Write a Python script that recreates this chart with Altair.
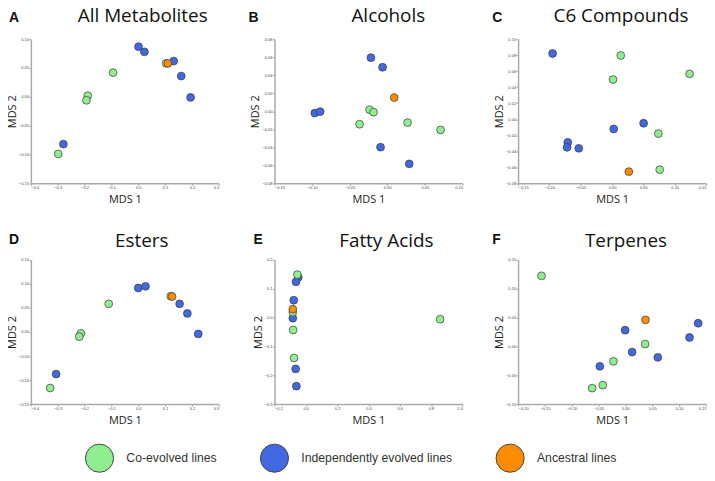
import altair as alt
import pandas as pd

# ---------------- data ----------------
GROUP_NAMES = ["Co-evolved lines", "Independently evolved lines", "Ancestral lines"]
GROUP_COLORS = ["#90EE90", "#4169E1", "#FF8C00"]

# point order per panel: 6 independently evolved, 5 co-evolved, 1 ancestral
groups = ["Independently evolved lines"] * 6 + ["Co-evolved lines"] * 5 + ["Ancestral lines"]

A_x = [0.001, 0.023, 0.132, 0.160, 0.195, -0.279, 0.104, -0.094, -0.188, -0.193, -0.298, 0.110]
A_y = [0.087, 0.078, 0.062, 0.036, -0.001, -0.082, 0.058, 0.042, 0.002, -0.006, -0.099, 0.058]

B_x = [-0.0963, -0.0892, -0.0217, -0.0062, -0.0089, 0.0293, -0.0235, -0.0182, -0.0368, 0.0271, 0.0710, 0.0093]
B_y = [-0.0020, -0.0004, 0.0595, 0.0488, -0.0399, -0.0584, 0.0018, -0.0011, -0.0144, -0.0126, -0.0207, 0.0152]

C_x = [-0.0949, 0.0027, 0.0504, -0.0707, -0.0718, -0.0531, 0.0139, 0.1238, 0.0016, 0.0740, 0.0761, 0.0268]
C_y = [0.0821, -0.0121, -0.0050, -0.0288, -0.0350, -0.0363, 0.0796, 0.0567, 0.0496, -0.0179, -0.0629, -0.0654]

D_x = [0.000, 0.027, 0.154, 0.183, 0.2235, -0.306, 0.121, -0.110, -0.2136, -0.2198, -0.328, 0.126]
D_y = [0.0917, 0.095, 0.0586, 0.0386, -0.004, -0.0876, 0.0745, 0.0586, -0.0028, -0.0097, -0.1166, 0.0738]

E_x = [-0.048, -0.0625, -0.077, -0.083, -0.0646, -0.060, -0.054, -0.083, -0.081, -0.075, 0.858, -0.083]
E_y = [0.140, 0.124, 0.060, -0.0023, -0.178, -0.238, 0.149, 0.0185, -0.043, -0.140, -0.0058, 0.029]

F_x = [0.1354, -0.0006, 0.1193, 0.0124, 0.0602, -0.0478, -0.1565, 0.0366, -0.0224, -0.0422, -0.0621, 0.0373]
F_y = [0.0402, 0.0282, 0.0155, -0.0098, -0.0190, -0.0345, 0.1224, 0.0040, -0.0259, -0.0672, -0.0724, 0.0460]

A_xticks = [-0.4, -0.3, -0.2, -0.1, 0.0, 0.1, 0.2, 0.3]
A_yticks = [-0.15, -0.10, -0.05, 0.00, 0.05, 0.10]
B_xticks = [-0.15, -0.10, -0.05, 0.00, 0.05, 0.10]
B_yticks = [-0.08, -0.06, -0.04, -0.02, 0.00, 0.02, 0.04, 0.06, 0.08]
C_xticks = [-0.15, -0.10, -0.05, 0.00, 0.05, 0.10, 0.15]
C_yticks = [-0.08, -0.06, -0.04, -0.02, 0.00, 0.02, 0.04, 0.06, 0.08, 0.10]
D_xticks = [-0.4, -0.3, -0.2, -0.1, 0.0, 0.1, 0.2, 0.3]
D_yticks = [-0.15, -0.10, -0.05, 0.00, 0.05, 0.10, 0.15]
E_xticks = [-0.2, 0.0, 0.2, 0.4, 0.6, 0.8, 1.0]
E_yticks = [-0.3, -0.2, -0.1, 0.0, 0.1, 0.2]
F_xticks = [-0.20, -0.15, -0.10, -0.05, 0.00, 0.05, 0.10, 0.15]
F_yticks = [-0.10, -0.05, 0.00, 0.05, 0.10, 0.15]

W, H = 189, 145
TITLE_FONT = "Open Sans"

legend = alt.Legend(
    orient="none", legendX=54, legendY=406, direction="horizontal", title=None,
    symbolType="circle", symbolSize=800, symbolStrokeColor="#444", symbolStrokeWidth=1,
    symbolOpacity=1, labelFontSize=12.3, labelFont="Liberation Sans", labelColor="#333",
    labelOffset=12, columnPadding=41, padding=0, labelLimit=300,
)


def panel(letter, title, xs, ys, xticks, xfmt, yticks, yfmt, title_y, title_dx, letter_x, letter_y):
    df = pd.DataFrame({"x": xs, "y": ys, "group": groups, "ord": list(range(len(xs)))})
    pts = alt.Chart(df).mark_circle(size=62, opacity=1, stroke="#3a3a3a", strokeWidth=0.7).encode(
        x=alt.X("x:Q", scale=alt.Scale(domain=[xticks[0], xticks[-1]], nice=False, zero=False),
                axis=alt.Axis(values=xticks, format=xfmt, title="MDS 1")),
        y=alt.Y("y:Q", scale=alt.Scale(domain=[yticks[0], yticks[-1]], nice=False, zero=False),
                axis=alt.Axis(values=yticks, format=yfmt, title="MDS 2")),
        color=alt.Color("group:N", scale=alt.Scale(domain=GROUP_NAMES, range=GROUP_COLORS), legend=legend),
        order=alt.Order("ord:Q"),
    )
    lab = alt.Chart(pd.DataFrame({"t": [letter]})).mark_text(
        font="Liberation Sans", fontWeight="bold", fontSize=14, align="left", baseline="alphabetic",
        color="#111",
    ).encode(text="t:N", x=alt.value(letter_x), y=alt.value(letter_y))
    ttl = alt.Chart(pd.DataFrame({"t": [title]})).mark_text(
        font=TITLE_FONT, fontSize=19, align="center", baseline="alphabetic", color="#111",
    ).encode(text="t:N", x=alt.value(W / 2 + title_dx), y=alt.value(title_y))
    return alt.layer(pts, lab, ttl).properties(width=W, height=H)


pA = panel("A", "All Metabolites", A_x, A_y, A_xticks, ".1f", A_yticks, ".2f", -17, 18, -22, -17)
pB = panel("B", "Alcohols", B_x, B_y, B_xticks, ".2f", B_yticks, ".2f", -17, 20, -26, -17)
pC = panel("C", "C6 Compounds", C_x, C_y, C_xticks, ".2f", C_yticks, ".2f", -17, 9, -26, -17)
pD = panel("D", "Esters", D_x, D_y, D_xticks, ".1f", D_yticks, ".2f", -13, 17, -22, -16)
pE = panel("E", "Fatty Acids", E_x, E_y, E_xticks, ".1f", E_yticks, ".1f", -13, 18, -21, -16)
pF = panel("F", "Terpenes", F_x, F_y, F_xticks, ".2f", F_yticks, ".2f", -13, 14, -26, -16)

chart = alt.concat(
    pA, pB, pC, pD, pE, pF, columns=3, spacing={"row": 77, "column": 56}, bounds="flush"
).properties(
    padding={"left": -2, "top": -2, "right": 0, "bottom": 0}, background="white"
).configure_view(stroke=None).configure_axis(
    grid=False, domainColor="#aaaaaa", domainWidth=1.5, tickColor="#888888", tickSize=2, tickWidth=0.8,
    labelFontSize=4, labelColor="#444", labelPadding=0.5, labelFont="Liberation Sans",
    titleFont=TITLE_FONT, titleFontSize=11, titleFontWeight="normal", titleColor="#222",
).configure_axisX(titlePadding=4).configure_axisY(titlePadding=1)

chart.save("out.html", embed_options={"renderer": "svg", "actions": False})
